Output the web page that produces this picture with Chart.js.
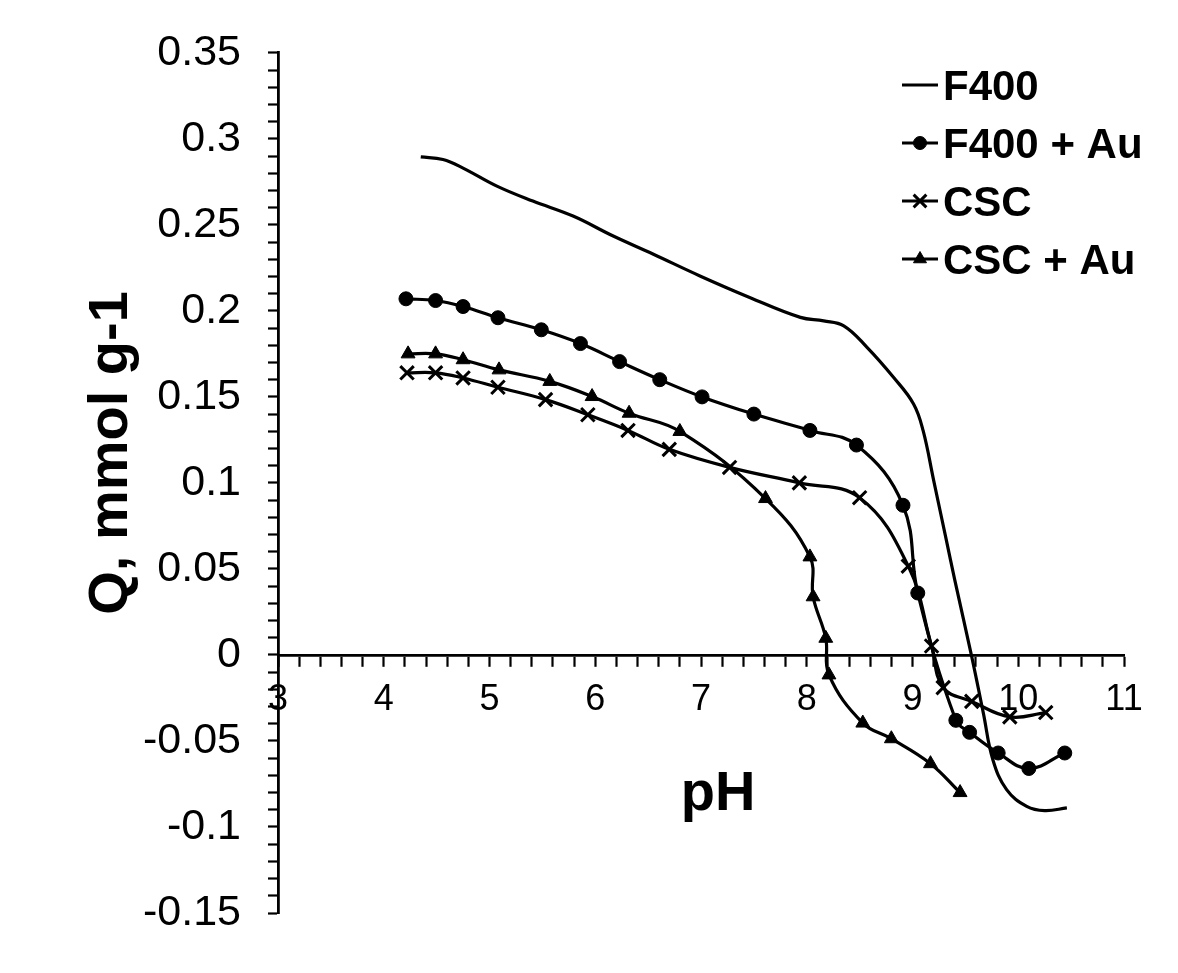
<!DOCTYPE html>
<html>
<head>
<meta charset="utf-8">
<script src="https://cdn.jsdelivr.net/npm/chart.js@4.4.1/dist/chart.umd.min.js"></script>
<style>
  html, body { margin: 0; padding: 0; background: #fff; }
  #wrap { width: 1178px; height: 973px; }
</style>
</head>
<body>
<div id="wrap"><canvas id="chart" width="1178" height="973"></canvas></div>
<script>
// values
var PH_F400 = [4.35, 4.56, 4.75, 5.07, 5.41, 5.79, 6.17, 6.55, 6.99, 7.46, 7.94, 8.16, 8.35, 8.57, 8.82, 9.01, 9.10, 9.20, 9.32, 9.40, 9.56, 9.67, 9.76, 9.89, 10.08, 10.25, 10.46];
var Q_F400 = [0.2895, 0.288, 0.283, 0.2725, 0.2638, 0.2551, 0.2435, 0.2329, 0.2203, 0.2078, 0.1962, 0.1942, 0.1913, 0.1788, 0.1614, 0.1459, 0.1305, 0.1015, 0.0667, 0.0435, -0.001, -0.0338, -0.0609, -0.0783, -0.088, -0.0905, -0.0889];

var PH_F400_AU = [4.21, 4.49, 4.75, 5.08, 5.49, 5.86, 6.23, 6.61, 7.01, 7.50, 8.03, 8.47, 8.91, 9.05, 9.41, 9.54, 9.81, 10.10, 10.44];
var Q_F400_AU = [0.207, 0.206, 0.2025, 0.196, 0.189, 0.181, 0.1705, 0.160, 0.150, 0.140, 0.1305, 0.122, 0.087, 0.036, -0.038, -0.045, -0.057, -0.066, -0.057];

var PH_CSC = [4.22, 4.49, 4.75, 5.08, 5.53, 5.93, 6.31, 6.70, 7.27, 7.93, 8.50, 8.96, 9.18, 9.29, 9.56, 9.92, 10.26];
var Q_CSC = [0.164, 0.164, 0.161, 0.1556, 0.1484, 0.1396, 0.1305, 0.1195, 0.109, 0.100, 0.0914, 0.0516, 0.0052, -0.019, -0.027, -0.036, -0.0335];

var PH_CSC_AU = [4.23, 4.49, 4.75, 5.09, 5.57, 5.97, 6.32, 6.80, 7.61, 8.03, 8.06, 8.18, 8.21, 8.53, 8.80, 9.17, 9.45];
var Q_CSC_AU = [0.175, 0.175, 0.1716, 0.1657, 0.159, 0.1502, 0.1405, 0.1299, 0.0909, 0.057, 0.0338, 0.0097, -0.0116, -0.0396, -0.0487, -0.0632, -0.080];

var SERIES_LABELS = ['F400', 'F400 + Au', 'CSC', 'CSC + Au'];
var X_TITLE = 'pH';
var Y_TITLE = 'Q, mmol g-1';

var FONT = '"Liberation Sans", Arial, Helvetica, sans-serif';
Chart.defaults.font.family = FONT;
Chart.defaults.color = '#000';

function points(xs, ys) {
  return xs.map(function (x, i) { return { x: x, y: ys[i] }; });
}

function fmtX(v) {
  return Math.abs(v - Math.round(v)) < 1e-6 ? String(Math.round(v)) : '';
}

function fmtY(v) {
  var k = v * 20;
  if (Math.abs(k - Math.round(k)) > 1e-6) return '';
  return String(parseFloat((Math.round(k) / 20).toFixed(2)));
}

function series(label, xs, ys, style, radius) {
  return {
    label: label,
    data: points(xs, ys),
    showLine: true,
    borderColor: '#000',
    borderWidth: 3.2,
    tension: 0.4,
    fill: false,
    pointStyle: style,
    pointRadius: radius,
    pointHoverRadius: radius,
    pointBackgroundColor: '#000',
    pointBorderColor: '#000',
    pointBorderWidth: style === 'crossRot' ? 3 : 1
  };
}

/** Axis titles at the spots they sit in the reference. */
var titlesPlugin = {
  id: 'axisTitles',
  afterDraw: function (chart) {
    var ctx = chart.ctx;
    ctx.save();
    ctx.fillStyle = '#000';
    ctx.textAlign = 'center';
    ctx.textBaseline = 'alphabetic';
    ctx.font = 'bold 56px ' + FONT;
    ctx.fillText(X_TITLE, 718, 810);
    ctx.translate(127, 453);
    ctx.rotate(-Math.PI / 2);
    ctx.fillText(Y_TITLE, 0, 0);
    ctx.restore();
  }
};

/** Legend inside the plot, top right: line sample + marker + bold label. */
var legendPlugin = {
  id: 'insideLegend',
  afterDraw: function (chart) {
    var ctx = chart.ctx;
    ctx.save();
    ctx.font = 'bold 42px ' + FONT;
    ctx.textAlign = 'left';
    ctx.textBaseline = 'alphabetic';
    chart.data.datasets.forEach(function (ds, i) {
      var base = 100 + i * 58;
      var cy = base - 15;
      ctx.strokeStyle = '#000';
      ctx.fillStyle = '#000';
      ctx.lineWidth = 2.8;
      ctx.beginPath();
      ctx.moveTo(902, cy);
      ctx.lineTo(938, cy);
      ctx.stroke();
      if (ds.pointRadius > 0) {
        ctx.lineWidth = ds.pointBorderWidth;
        Chart.helpers.drawPoint(ctx, {
          pointStyle: ds.pointStyle, radius: ds.pointRadius - 0.5, rotation: 0, borderWidth: ds.pointBorderWidth
        }, 920, cy);
      }
      ctx.fillStyle = '#000';
      ctx.fillText(ds.label, 943, base);
    });
    ctx.restore();
  }
};

var axisLine = { display: true, color: '#000', width: 2.8 };
var tickMarks = { drawOnChartArea: false, drawTicks: true, tickLength: 10, color: '#000', tickWidth: 2.2 };

new Chart(document.getElementById('chart').getContext('2d'), {
  type: 'scatter',
  data: {
    datasets: [
      series(SERIES_LABELS[0], PH_F400, Q_F400, 'circle', 0),
      series(SERIES_LABELS[1], PH_F400_AU, Q_F400_AU, 'circle', 7),
      series(SERIES_LABELS[2], PH_CSC, Q_CSC, 'crossRot', 9.5),
      series(SERIES_LABELS[3], PH_CSC_AU, Q_CSC_AU, 'triangle', 8)
    ]
  },
  options: {
    responsive: false,
    animation: false,
    events: [],
    layout: { padding: { left: 0, right: 54, top: 51, bottom: 60 } },
    plugins: {
      legend: { display: false },
      tooltip: { enabled: false }
    },
    scales: {
      x: {
        type: 'linear',
        position: { y: 0 },
        min: 3,
        max: 11,
        border: axisLine,
        grid: tickMarks,
        ticks: { stepSize: 0.2, autoSkip: false, maxRotation: 0, padding: 14, font: { size: 36 }, callback: fmtX }
      },
      y: {
        type: 'linear',
        position: 'left',
        min: -0.15,
        max: 0.35,
        afterFit: function (scale) { scale.width = 278; },
        border: axisLine,
        grid: tickMarks,
        ticks: { stepSize: 0.01, autoSkip: false, padding: 27, font: { size: 43 }, callback: fmtY }
      }
    }
  },
  plugins: [titlesPlugin, legendPlugin]
});
</script>
</body>
</html>
